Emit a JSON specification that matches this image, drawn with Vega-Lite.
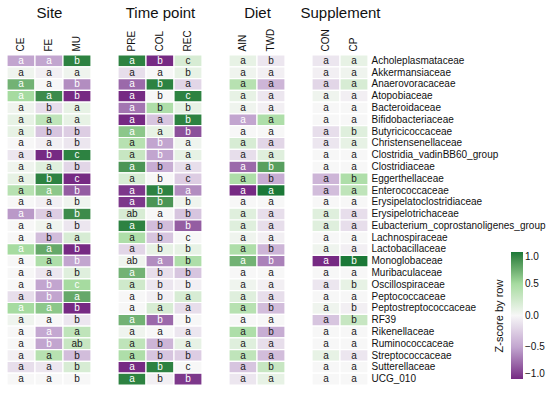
{
  "$schema": "https://vega.github.io/schema/vega-lite/v6.json",
  "padding": {"left": 6, "top": 5, "right": 4, "bottom": 8},
  "config": {
    "font": "Liberation Sans",
    "view": {"stroke": null},
    "axis": {"labelColor": "#111", "titleColor": "#111"},
    "legend": {"labelColor": "#111", "titleColor": "#111"}
  },
  "datasets": {
    "cells": [
      {"family":"Acholeplasmataceae","panel":"Site","group":"CE","z":-0.5,"label":"a"},
      {"family":"Acholeplasmataceae","panel":"Site","group":"FE","z":-0.5,"label":"a"},
      {"family":"Acholeplasmataceae","panel":"Site","group":"MU","z":0.95,"label":"b"},
      {"family":"Akkermansiaceae","panel":"Site","group":"CE","z":0.05,"label":"a"},
      {"family":"Akkermansiaceae","panel":"Site","group":"FE","z":-0.05,"label":"a"},
      {"family":"Akkermansiaceae","panel":"Site","group":"MU","z":0.05,"label":"a"},
      {"family":"Anaerovoracaceae","panel":"Site","group":"CE","z":0.7,"label":"a"},
      {"family":"Anaerovoracaceae","panel":"Site","group":"FE","z":0.0,"label":"a"},
      {"family":"Anaerovoracaceae","panel":"Site","group":"MU","z":-0.6,"label":"b"},
      {"family":"Atopobiaceae","panel":"Site","group":"CE","z":0.5,"label":"a"},
      {"family":"Atopobiaceae","panel":"Site","group":"FE","z":0.9,"label":"a"},
      {"family":"Atopobiaceae","panel":"Site","group":"MU","z":-1.0,"label":"b"},
      {"family":"Bacteroidaceae","panel":"Site","group":"CE","z":0.05,"label":"a"},
      {"family":"Bacteroidaceae","panel":"Site","group":"FE","z":-0.15,"label":"b"},
      {"family":"Bacteroidaceae","panel":"Site","group":"MU","z":0.1,"label":"a"},
      {"family":"Bifidobacteriaceae","panel":"Site","group":"CE","z":0.1,"label":"a"},
      {"family":"Bifidobacteriaceae","panel":"Site","group":"FE","z":0.35,"label":"a"},
      {"family":"Bifidobacteriaceae","panel":"Site","group":"MU","z":0.1,"label":"a"},
      {"family":"Butyricicoccaceae","panel":"Site","group":"CE","z":0.1,"label":"a"},
      {"family":"Butyricicoccaceae","panel":"Site","group":"FE","z":-0.3,"label":"b"},
      {"family":"Butyricicoccaceae","panel":"Site","group":"MU","z":-0.25,"label":"b"},
      {"family":"Christensenellaceae","panel":"Site","group":"CE","z":0.0,"label":"a"},
      {"family":"Christensenellaceae","panel":"Site","group":"FE","z":-0.05,"label":"a"},
      {"family":"Christensenellaceae","panel":"Site","group":"MU","z":-0.1,"label":"b"},
      {"family":"Clostridia_vadinBB60_group","panel":"Site","group":"CE","z":-0.1,"label":"a"},
      {"family":"Clostridia_vadinBB60_group","panel":"Site","group":"FE","z":-1.0,"label":"b"},
      {"family":"Clostridia_vadinBB60_group","panel":"Site","group":"MU","z":0.95,"label":"c"},
      {"family":"Clostridiaceae","panel":"Site","group":"CE","z":0.05,"label":"a"},
      {"family":"Clostridiaceae","panel":"Site","group":"FE","z":0.15,"label":"a"},
      {"family":"Clostridiaceae","panel":"Site","group":"MU","z":-0.2,"label":"b"},
      {"family":"Eggerthellaceae","panel":"Site","group":"CE","z":0.1,"label":"a"},
      {"family":"Eggerthellaceae","panel":"Site","group":"FE","z":0.95,"label":"b"},
      {"family":"Eggerthellaceae","panel":"Site","group":"MU","z":-1.0,"label":"c"},
      {"family":"Enterococcaceae","panel":"Site","group":"CE","z":0.4,"label":"a"},
      {"family":"Enterococcaceae","panel":"Site","group":"FE","z":0.6,"label":"a"},
      {"family":"Enterococcaceae","panel":"Site","group":"MU","z":-0.8,"label":"b"},
      {"family":"Erysipelatoclostridiaceae","panel":"Site","group":"CE","z":0.0,"label":"a"},
      {"family":"Erysipelatoclostridiaceae","panel":"Site","group":"FE","z":-0.05,"label":"a"},
      {"family":"Erysipelatoclostridiaceae","panel":"Site","group":"MU","z":0.05,"label":"b"},
      {"family":"Erysipelotrichaceae","panel":"Site","group":"CE","z":-0.55,"label":"a"},
      {"family":"Erysipelotrichaceae","panel":"Site","group":"FE","z":-0.25,"label":"a"},
      {"family":"Erysipelotrichaceae","panel":"Site","group":"MU","z":0.9,"label":"b"},
      {"family":"Eubacterium_coprostanoligenes_group","panel":"Site","group":"CE","z":0.0,"label":"a"},
      {"family":"Eubacterium_coprostanoligenes_group","panel":"Site","group":"FE","z":0.05,"label":"a"},
      {"family":"Eubacterium_coprostanoligenes_group","panel":"Site","group":"MU","z":-0.1,"label":"b"},
      {"family":"Lachnospiraceae","panel":"Site","group":"CE","z":0.0,"label":"a"},
      {"family":"Lachnospiraceae","panel":"Site","group":"FE","z":-0.35,"label":"b"},
      {"family":"Lachnospiraceae","panel":"Site","group":"MU","z":0.2,"label":"a"},
      {"family":"Lactobacillaceae","panel":"Site","group":"CE","z":0.5,"label":"a"},
      {"family":"Lactobacillaceae","panel":"Site","group":"FE","z":0.75,"label":"a"},
      {"family":"Lactobacillaceae","panel":"Site","group":"MU","z":-1.0,"label":"b"},
      {"family":"Monoglobaceae","panel":"Site","group":"CE","z":0.0,"label":"a"},
      {"family":"Monoglobaceae","panel":"Site","group":"FE","z":0.45,"label":"a"},
      {"family":"Monoglobaceae","panel":"Site","group":"MU","z":-0.5,"label":"b"},
      {"family":"Muribaculaceae","panel":"Site","group":"CE","z":0.0,"label":"a"},
      {"family":"Muribaculaceae","panel":"Site","group":"FE","z":-0.1,"label":"a"},
      {"family":"Muribaculaceae","panel":"Site","group":"MU","z":0.15,"label":"b"},
      {"family":"Oscillospiraceae","panel":"Site","group":"CE","z":0.0,"label":"a"},
      {"family":"Oscillospiraceae","panel":"Site","group":"FE","z":-0.5,"label":"b"},
      {"family":"Oscillospiraceae","panel":"Site","group":"MU","z":0.5,"label":"c"},
      {"family":"Peptococcaceae","panel":"Site","group":"CE","z":-0.15,"label":"a"},
      {"family":"Peptococcaceae","panel":"Site","group":"FE","z":-0.5,"label":"b"},
      {"family":"Peptococcaceae","panel":"Site","group":"MU","z":0.75,"label":"a"},
      {"family":"Peptostreptococcaceae","panel":"Site","group":"CE","z":0.5,"label":"a"},
      {"family":"Peptostreptococcaceae","panel":"Site","group":"FE","z":0.6,"label":"a"},
      {"family":"Peptostreptococcaceae","panel":"Site","group":"MU","z":-1.0,"label":"b"},
      {"family":"RF39","panel":"Site","group":"CE","z":0.05,"label":"a"},
      {"family":"RF39","panel":"Site","group":"FE","z":0.0,"label":"a"},
      {"family":"RF39","panel":"Site","group":"MU","z":-0.1,"label":"b"},
      {"family":"Rikenellaceae","panel":"Site","group":"CE","z":0.0,"label":"a"},
      {"family":"Rikenellaceae","panel":"Site","group":"FE","z":-0.48,"label":"a"},
      {"family":"Rikenellaceae","panel":"Site","group":"MU","z":0.35,"label":"a"},
      {"family":"Ruminococcaceae","panel":"Site","group":"CE","z":0.0,"label":"a"},
      {"family":"Ruminococcaceae","panel":"Site","group":"FE","z":-0.5,"label":"b"},
      {"family":"Ruminococcaceae","panel":"Site","group":"MU","z":0.3,"label":"ab"},
      {"family":"Streptococcaceae","panel":"Site","group":"CE","z":-0.05,"label":"a"},
      {"family":"Streptococcaceae","panel":"Site","group":"FE","z":0.4,"label":"a"},
      {"family":"Streptococcaceae","panel":"Site","group":"MU","z":-0.35,"label":"b"},
      {"family":"Sutterellaceae","panel":"Site","group":"CE","z":-0.15,"label":"a"},
      {"family":"Sutterellaceae","panel":"Site","group":"FE","z":-0.1,"label":"a"},
      {"family":"Sutterellaceae","panel":"Site","group":"MU","z":0.2,"label":"b"},
      {"family":"UCG_010","panel":"Site","group":"CE","z":0.0,"label":"a"},
      {"family":"UCG_010","panel":"Site","group":"FE","z":0.0,"label":"a"},
      {"family":"UCG_010","panel":"Site","group":"MU","z":0.0,"label":"b"},

      {"family":"Acholeplasmataceae","panel":"Time","group":"PRE","z":0.95,"label":"a"},
      {"family":"Acholeplasmataceae","panel":"Time","group":"COL","z":-1.0,"label":"b"},
      {"family":"Acholeplasmataceae","panel":"Time","group":"REC","z":0.2,"label":"c"},
      {"family":"Akkermansiaceae","panel":"Time","group":"PRE","z":-0.15,"label":"a"},
      {"family":"Akkermansiaceae","panel":"Time","group":"COL","z":0.0,"label":"a"},
      {"family":"Akkermansiaceae","panel":"Time","group":"REC","z":0.1,"label":"b"},
      {"family":"Anaerovoracaceae","panel":"Time","group":"PRE","z":-0.75,"label":"a"},
      {"family":"Anaerovoracaceae","panel":"Time","group":"COL","z":0.95,"label":"b"},
      {"family":"Anaerovoracaceae","panel":"Time","group":"REC","z":-0.2,"label":"a"},
      {"family":"Atopobiaceae","panel":"Time","group":"PRE","z":-1.0,"label":"a"},
      {"family":"Atopobiaceae","panel":"Time","group":"COL","z":0.0,"label":"b"},
      {"family":"Atopobiaceae","panel":"Time","group":"REC","z":0.95,"label":"c"},
      {"family":"Bacteroidaceae","panel":"Time","group":"PRE","z":-0.7,"label":"a"},
      {"family":"Bacteroidaceae","panel":"Time","group":"COL","z":0.45,"label":"b"},
      {"family":"Bacteroidaceae","panel":"Time","group":"REC","z":0.1,"label":"b"},
      {"family":"Bifidobacteriaceae","panel":"Time","group":"PRE","z":-1.0,"label":"a"},
      {"family":"Bifidobacteriaceae","panel":"Time","group":"COL","z":-0.3,"label":"a"},
      {"family":"Bifidobacteriaceae","panel":"Time","group":"REC","z":0.95,"label":"b"},
      {"family":"Butyricicoccaceae","panel":"Time","group":"PRE","z":0.6,"label":"a"},
      {"family":"Butyricicoccaceae","panel":"Time","group":"COL","z":0.1,"label":"a"},
      {"family":"Butyricicoccaceae","panel":"Time","group":"REC","z":-0.85,"label":"b"},
      {"family":"Christensenellaceae","panel":"Time","group":"PRE","z":0.4,"label":"a"},
      {"family":"Christensenellaceae","panel":"Time","group":"COL","z":-0.5,"label":"b"},
      {"family":"Christensenellaceae","panel":"Time","group":"REC","z":0.05,"label":"a"},
      {"family":"Clostridia_vadinBB60_group","panel":"Time","group":"PRE","z":0.3,"label":"a"},
      {"family":"Clostridia_vadinBB60_group","panel":"Time","group":"COL","z":-0.5,"label":"b"},
      {"family":"Clostridia_vadinBB60_group","panel":"Time","group":"REC","z":0.1,"label":"a"},
      {"family":"Clostridiaceae","panel":"Time","group":"PRE","z":0.85,"label":"a"},
      {"family":"Clostridiaceae","panel":"Time","group":"COL","z":-0.45,"label":"b"},
      {"family":"Clostridiaceae","panel":"Time","group":"REC","z":-0.15,"label":"a"},
      {"family":"Eggerthellaceae","panel":"Time","group":"PRE","z":0.2,"label":"a"},
      {"family":"Eggerthellaceae","panel":"Time","group":"COL","z":0.0,"label":"b"},
      {"family":"Eggerthellaceae","panel":"Time","group":"REC","z":-0.25,"label":"c"},
      {"family":"Enterococcaceae","panel":"Time","group":"PRE","z":-0.95,"label":"a"},
      {"family":"Enterococcaceae","panel":"Time","group":"COL","z":0.95,"label":"b"},
      {"family":"Enterococcaceae","panel":"Time","group":"REC","z":-0.6,"label":"a"},
      {"family":"Erysipelatoclostridiaceae","panel":"Time","group":"PRE","z":-0.95,"label":"a"},
      {"family":"Erysipelatoclostridiaceae","panel":"Time","group":"COL","z":0.85,"label":"b"},
      {"family":"Erysipelatoclostridiaceae","panel":"Time","group":"REC","z":0.05,"label":"b"},
      {"family":"Erysipelotrichaceae","panel":"Time","group":"PRE","z":0.2,"label":"ab"},
      {"family":"Erysipelotrichaceae","panel":"Time","group":"COL","z":0.0,"label":"a"},
      {"family":"Erysipelotrichaceae","panel":"Time","group":"REC","z":-0.3,"label":"b"},
      {"family":"Eubacterium_coprostanoligenes_group","panel":"Time","group":"PRE","z":0.95,"label":"a"},
      {"family":"Eubacterium_coprostanoligenes_group","panel":"Time","group":"COL","z":-0.35,"label":"b"},
      {"family":"Eubacterium_coprostanoligenes_group","panel":"Time","group":"REC","z":-0.8,"label":"b"},
      {"family":"Lachnospiraceae","panel":"Time","group":"PRE","z":0.45,"label":"a"},
      {"family":"Lachnospiraceae","panel":"Time","group":"COL","z":-0.3,"label":"b"},
      {"family":"Lachnospiraceae","panel":"Time","group":"REC","z":0.0,"label":"c"},
      {"family":"Lactobacillaceae","panel":"Time","group":"PRE","z":-0.2,"label":"a"},
      {"family":"Lactobacillaceae","panel":"Time","group":"COL","z":0.1,"label":"b"},
      {"family":"Lactobacillaceae","panel":"Time","group":"REC","z":0.1,"label":"b"},
      {"family":"Monoglobaceae","panel":"Time","group":"PRE","z":0.05,"label":"ab"},
      {"family":"Monoglobaceae","panel":"Time","group":"COL","z":-0.6,"label":"a"},
      {"family":"Monoglobaceae","panel":"Time","group":"REC","z":0.45,"label":"b"},
      {"family":"Muribaculaceae","panel":"Time","group":"PRE","z":0.7,"label":"a"},
      {"family":"Muribaculaceae","panel":"Time","group":"COL","z":-0.15,"label":"b"},
      {"family":"Muribaculaceae","panel":"Time","group":"REC","z":-0.3,"label":"b"},
      {"family":"Oscillospiraceae","panel":"Time","group":"PRE","z":0.25,"label":"a"},
      {"family":"Oscillospiraceae","panel":"Time","group":"COL","z":-0.1,"label":"b"},
      {"family":"Oscillospiraceae","panel":"Time","group":"REC","z":-0.05,"label":"b"},
      {"family":"Peptococcaceae","panel":"Time","group":"PRE","z":0.0,"label":"a"},
      {"family":"Peptococcaceae","panel":"Time","group":"COL","z":-0.05,"label":"b"},
      {"family":"Peptococcaceae","panel":"Time","group":"REC","z":0.2,"label":"a"},
      {"family":"Peptostreptococcaceae","panel":"Time","group":"PRE","z":0.0,"label":"a"},
      {"family":"Peptostreptococcaceae","panel":"Time","group":"COL","z":0.2,"label":"a"},
      {"family":"Peptostreptococcaceae","panel":"Time","group":"REC","z":-0.15,"label":"a"},
      {"family":"RF39","panel":"Time","group":"PRE","z":0.7,"label":"a"},
      {"family":"RF39","panel":"Time","group":"COL","z":-0.75,"label":"b"},
      {"family":"RF39","panel":"Time","group":"REC","z":0.0,"label":"b"},
      {"family":"Rikenellaceae","panel":"Time","group":"PRE","z":0.05,"label":"a"},
      {"family":"Rikenellaceae","panel":"Time","group":"COL","z":0.0,"label":"a"},
      {"family":"Rikenellaceae","panel":"Time","group":"REC","z":-0.1,"label":"a"},
      {"family":"Ruminococcaceae","panel":"Time","group":"PRE","z":0.35,"label":"a"},
      {"family":"Ruminococcaceae","panel":"Time","group":"COL","z":-0.4,"label":"b"},
      {"family":"Ruminococcaceae","panel":"Time","group":"REC","z":0.1,"label":"a"},
      {"family":"Streptococcaceae","panel":"Time","group":"PRE","z":0.45,"label":"a"},
      {"family":"Streptococcaceae","panel":"Time","group":"COL","z":-0.3,"label":"b"},
      {"family":"Streptococcaceae","panel":"Time","group":"REC","z":-0.25,"label":"b"},
      {"family":"Sutterellaceae","panel":"Time","group":"PRE","z":-1.0,"label":"a"},
      {"family":"Sutterellaceae","panel":"Time","group":"COL","z":0.95,"label":"b"},
      {"family":"Sutterellaceae","panel":"Time","group":"REC","z":0.0,"label":"c"},
      {"family":"UCG_010","panel":"Time","group":"PRE","z":0.95,"label":"a"},
      {"family":"UCG_010","panel":"Time","group":"COL","z":-0.05,"label":"b"},
      {"family":"UCG_010","panel":"Time","group":"REC","z":-0.95,"label":"b"},

      {"family":"Acholeplasmataceae","panel":"Diet","group":"AIN","z":0.1,"label":"a"},
      {"family":"Acholeplasmataceae","panel":"Diet","group":"TWD","z":-0.1,"label":"b"},
      {"family":"Akkermansiaceae","panel":"Diet","group":"AIN","z":0.05,"label":"a"},
      {"family":"Akkermansiaceae","panel":"Diet","group":"TWD","z":-0.05,"label":"a"},
      {"family":"Anaerovoracaceae","panel":"Diet","group":"AIN","z":0.4,"label":"a"},
      {"family":"Anaerovoracaceae","panel":"Diet","group":"TWD","z":-0.4,"label":"a"},
      {"family":"Atopobiaceae","panel":"Diet","group":"AIN","z":0.1,"label":"a"},
      {"family":"Atopobiaceae","panel":"Diet","group":"TWD","z":-0.1,"label":"a"},
      {"family":"Bacteroidaceae","panel":"Diet","group":"AIN","z":0.05,"label":"a"},
      {"family":"Bacteroidaceae","panel":"Diet","group":"TWD","z":-0.05,"label":"a"},
      {"family":"Bifidobacteriaceae","panel":"Diet","group":"AIN","z":-0.5,"label":"a"},
      {"family":"Bifidobacteriaceae","panel":"Diet","group":"TWD","z":0.45,"label":"a"},
      {"family":"Butyricicoccaceae","panel":"Diet","group":"AIN","z":0.0,"label":"a"},
      {"family":"Butyricicoccaceae","panel":"Diet","group":"TWD","z":0.0,"label":"a"},
      {"family":"Christensenellaceae","panel":"Diet","group":"AIN","z":0.2,"label":"a"},
      {"family":"Christensenellaceae","panel":"Diet","group":"TWD","z":-0.2,"label":"a"},
      {"family":"Clostridia_vadinBB60_group","panel":"Diet","group":"AIN","z":-0.15,"label":"a"},
      {"family":"Clostridia_vadinBB60_group","panel":"Diet","group":"TWD","z":0.15,"label":"a"},
      {"family":"Clostridiaceae","panel":"Diet","group":"AIN","z":-0.75,"label":"a"},
      {"family":"Clostridiaceae","panel":"Diet","group":"TWD","z":0.8,"label":"b"},
      {"family":"Eggerthellaceae","panel":"Diet","group":"AIN","z":0.45,"label":"a"},
      {"family":"Eggerthellaceae","panel":"Diet","group":"TWD","z":-0.45,"label":"b"},
      {"family":"Enterococcaceae","panel":"Diet","group":"AIN","z":-1.0,"label":"a"},
      {"family":"Enterococcaceae","panel":"Diet","group":"TWD","z":1.0,"label":"a"},
      {"family":"Erysipelatoclostridiaceae","panel":"Diet","group":"AIN","z":0.0,"label":"a"},
      {"family":"Erysipelatoclostridiaceae","panel":"Diet","group":"TWD","z":0.0,"label":"a"},
      {"family":"Erysipelotrichaceae","panel":"Diet","group":"AIN","z":0.15,"label":"a"},
      {"family":"Erysipelotrichaceae","panel":"Diet","group":"TWD","z":-0.15,"label":"a"},
      {"family":"Eubacterium_coprostanoligenes_group","panel":"Diet","group":"AIN","z":0.15,"label":"a"},
      {"family":"Eubacterium_coprostanoligenes_group","panel":"Diet","group":"TWD","z":-0.15,"label":"a"},
      {"family":"Lachnospiraceae","panel":"Diet","group":"AIN","z":0.05,"label":"a"},
      {"family":"Lachnospiraceae","panel":"Diet","group":"TWD","z":-0.05,"label":"a"},
      {"family":"Lactobacillaceae","panel":"Diet","group":"AIN","z":0.45,"label":"a"},
      {"family":"Lactobacillaceae","panel":"Diet","group":"TWD","z":-0.4,"label":"b"},
      {"family":"Monoglobaceae","panel":"Diet","group":"AIN","z":0.7,"label":"a"},
      {"family":"Monoglobaceae","panel":"Diet","group":"TWD","z":-0.65,"label":"b"},
      {"family":"Muribaculaceae","panel":"Diet","group":"AIN","z":0.0,"label":"a"},
      {"family":"Muribaculaceae","panel":"Diet","group":"TWD","z":0.0,"label":"a"},
      {"family":"Oscillospiraceae","panel":"Diet","group":"AIN","z":0.05,"label":"a"},
      {"family":"Oscillospiraceae","panel":"Diet","group":"TWD","z":-0.05,"label":"a"},
      {"family":"Peptococcaceae","panel":"Diet","group":"AIN","z":0.15,"label":"a"},
      {"family":"Peptococcaceae","panel":"Diet","group":"TWD","z":-0.15,"label":"a"},
      {"family":"Peptostreptococcaceae","panel":"Diet","group":"AIN","z":0.4,"label":"a"},
      {"family":"Peptostreptococcaceae","panel":"Diet","group":"TWD","z":-0.35,"label":"b"},
      {"family":"RF39","panel":"Diet","group":"AIN","z":0.0,"label":"a"},
      {"family":"RF39","panel":"Diet","group":"TWD","z":0.0,"label":"a"},
      {"family":"Rikenellaceae","panel":"Diet","group":"AIN","z":0.45,"label":"a"},
      {"family":"Rikenellaceae","panel":"Diet","group":"TWD","z":-0.45,"label":"b"},
      {"family":"Ruminococcaceae","panel":"Diet","group":"AIN","z":0.15,"label":"a"},
      {"family":"Ruminococcaceae","panel":"Diet","group":"TWD","z":-0.15,"label":"a"},
      {"family":"Streptococcaceae","panel":"Diet","group":"AIN","z":0.35,"label":"a"},
      {"family":"Streptococcaceae","panel":"Diet","group":"TWD","z":-0.35,"label":"a"},
      {"family":"Sutterellaceae","panel":"Diet","group":"AIN","z":-0.3,"label":"a"},
      {"family":"Sutterellaceae","panel":"Diet","group":"TWD","z":0.3,"label":"b"},
      {"family":"UCG_010","panel":"Diet","group":"AIN","z":-0.1,"label":"a"},
      {"family":"UCG_010","panel":"Diet","group":"TWD","z":0.1,"label":"a"},

      {"family":"Acholeplasmataceae","panel":"Supplement","group":"CON","z":-0.1,"label":"a"},
      {"family":"Acholeplasmataceae","panel":"Supplement","group":"CP","z":0.1,"label":"a"},
      {"family":"Akkermansiaceae","panel":"Supplement","group":"CON","z":-0.05,"label":"a"},
      {"family":"Akkermansiaceae","panel":"Supplement","group":"CP","z":0.05,"label":"a"},
      {"family":"Anaerovoracaceae","panel":"Supplement","group":"CON","z":-0.2,"label":"a"},
      {"family":"Anaerovoracaceae","panel":"Supplement","group":"CP","z":0.2,"label":"a"},
      {"family":"Atopobiaceae","panel":"Supplement","group":"CON","z":0.05,"label":"a"},
      {"family":"Atopobiaceae","panel":"Supplement","group":"CP","z":-0.05,"label":"a"},
      {"family":"Bacteroidaceae","panel":"Supplement","group":"CON","z":0.0,"label":"a"},
      {"family":"Bacteroidaceae","panel":"Supplement","group":"CP","z":0.0,"label":"a"},
      {"family":"Bifidobacteriaceae","panel":"Supplement","group":"CON","z":0.0,"label":"a"},
      {"family":"Bifidobacteriaceae","panel":"Supplement","group":"CP","z":0.0,"label":"a"},
      {"family":"Butyricicoccaceae","panel":"Supplement","group":"CON","z":-0.15,"label":"a"},
      {"family":"Butyricicoccaceae","panel":"Supplement","group":"CP","z":0.15,"label":"b"},
      {"family":"Christensenellaceae","panel":"Supplement","group":"CON","z":-0.1,"label":"a"},
      {"family":"Christensenellaceae","panel":"Supplement","group":"CP","z":0.1,"label":"a"},
      {"family":"Clostridia_vadinBB60_group","panel":"Supplement","group":"CON","z":0.0,"label":"a"},
      {"family":"Clostridia_vadinBB60_group","panel":"Supplement","group":"CP","z":0.0,"label":"a"},
      {"family":"Clostridiaceae","panel":"Supplement","group":"CON","z":0.0,"label":"a"},
      {"family":"Clostridiaceae","panel":"Supplement","group":"CP","z":0.0,"label":"a"},
      {"family":"Eggerthellaceae","panel":"Supplement","group":"CON","z":-0.4,"label":"a"},
      {"family":"Eggerthellaceae","panel":"Supplement","group":"CP","z":0.45,"label":"b"},
      {"family":"Enterococcaceae","panel":"Supplement","group":"CON","z":-0.35,"label":"a"},
      {"family":"Enterococcaceae","panel":"Supplement","group":"CP","z":0.35,"label":"a"},
      {"family":"Erysipelatoclostridiaceae","panel":"Supplement","group":"CON","z":0.0,"label":"a"},
      {"family":"Erysipelatoclostridiaceae","panel":"Supplement","group":"CP","z":0.0,"label":"a"},
      {"family":"Erysipelotrichaceae","panel":"Supplement","group":"CON","z":0.15,"label":"a"},
      {"family":"Erysipelotrichaceae","panel":"Supplement","group":"CP","z":-0.15,"label":"a"},
      {"family":"Eubacterium_coprostanoligenes_group","panel":"Supplement","group":"CON","z":0.15,"label":"a"},
      {"family":"Eubacterium_coprostanoligenes_group","panel":"Supplement","group":"CP","z":-0.15,"label":"a"},
      {"family":"Lachnospiraceae","panel":"Supplement","group":"CON","z":0.0,"label":"a"},
      {"family":"Lachnospiraceae","panel":"Supplement","group":"CP","z":0.0,"label":"a"},
      {"family":"Lactobacillaceae","panel":"Supplement","group":"CON","z":0.05,"label":"a"},
      {"family":"Lactobacillaceae","panel":"Supplement","group":"CP","z":-0.05,"label":"a"},
      {"family":"Monoglobaceae","panel":"Supplement","group":"CON","z":-1.0,"label":"a"},
      {"family":"Monoglobaceae","panel":"Supplement","group":"CP","z":1.0,"label":"b"},
      {"family":"Muribaculaceae","panel":"Supplement","group":"CON","z":0.0,"label":"a"},
      {"family":"Muribaculaceae","panel":"Supplement","group":"CP","z":0.0,"label":"a"},
      {"family":"Oscillospiraceae","panel":"Supplement","group":"CON","z":-0.1,"label":"a"},
      {"family":"Oscillospiraceae","panel":"Supplement","group":"CP","z":0.1,"label":"b"},
      {"family":"Peptococcaceae","panel":"Supplement","group":"CON","z":0.0,"label":"a"},
      {"family":"Peptococcaceae","panel":"Supplement","group":"CP","z":0.0,"label":"a"},
      {"family":"Peptostreptococcaceae","panel":"Supplement","group":"CON","z":0.05,"label":"a"},
      {"family":"Peptostreptococcaceae","panel":"Supplement","group":"CP","z":-0.05,"label":"b"},
      {"family":"RF39","panel":"Supplement","group":"CON","z":-0.3,"label":"a"},
      {"family":"RF39","panel":"Supplement","group":"CP","z":0.3,"label":"b"},
      {"family":"Rikenellaceae","panel":"Supplement","group":"CON","z":0.0,"label":"a"},
      {"family":"Rikenellaceae","panel":"Supplement","group":"CP","z":0.0,"label":"a"},
      {"family":"Ruminococcaceae","panel":"Supplement","group":"CON","z":0.0,"label":"a"},
      {"family":"Ruminococcaceae","panel":"Supplement","group":"CP","z":0.0,"label":"a"},
      {"family":"Streptococcaceae","panel":"Supplement","group":"CON","z":0.1,"label":"a"},
      {"family":"Streptococcaceae","panel":"Supplement","group":"CP","z":-0.1,"label":"a"},
      {"family":"Sutterellaceae","panel":"Supplement","group":"CON","z":0.0,"label":"a"},
      {"family":"Sutterellaceae","panel":"Supplement","group":"CP","z":0.0,"label":"a"},
      {"family":"UCG_010","panel":"Supplement","group":"CON","z":0.0,"label":"a"},
      {"family":"UCG_010","panel":"Supplement","group":"CP","z":0.0,"label":"a"}
    ]
  },
  "data": {"name": "cells"},
  "bounds": "flush",
  "spacing": 27,
  "resolve": {"scale": {"color": "shared"}},
  "hconcat": [
    {
      "width": 84, "height": 330,
      "transform": [{"filter": "datum.panel === 'Site'"}],
      "encoding": {
        "x": {"field": "group", "type": "nominal", "sort": ["CE","FE","MU"], "scale": {"paddingInner": 0, "paddingOuter": 0},
              "axis": {"orient": "top", "title": "Site", "titleY": -38, "titleFontSize": 15, "titleFontWeight": "normal", "titleBaseline": "alphabetic", "labelAngle": -90, "labelFontSize": 10, "labelPadding": 4, "ticks": false, "domain": false, "grid": false}},
        "y": {"field": "family", "type": "nominal", "scale": {"paddingInner": 0, "paddingOuter": 0}, "axis": null}
      },
      "layer": [
        {"mark": {"type": "rect", "stroke": "white", "strokeWidth": 1.2},
         "encoding": {"color": {"field": "z", "type": "quantitative",
            "scale": {"domain": [-1, -0.5, 0, 0.5, 1], "range": ["#762a83", "#c2a5cf", "#f7f7f7", "#a6dba0", "#1b7837"], "clamp": true},
            "legend": {"title": "Z-score by row", "orient": "none", "legendX": 487, "legendY": 197, "direction": "vertical", "gradientLength": 127, "gradientThickness": 12, "titleOrient": "left", "titleAngle": 270, "titleAnchor": "middle", "titleFontSize": 11, "titleFontWeight": "normal", "values": [-1, -0.5, 0, 0.5, 1], "format": ".1f", "labelFontSize": 10}}}},
        {"mark": {"type": "text", "fontSize": 10},
         "encoding": {"text": {"field": "label"}, "color": {"condition": {"test": "abs(datum.z) > 0.47", "value": "white"}, "value": "#1a1a1a"}}}
      ]
    },
    {
      "width": 84, "height": 330,
      "transform": [{"filter": "datum.panel === 'Time'"}],
      "encoding": {
        "x": {"field": "group", "type": "nominal", "sort": ["PRE","COL","REC"], "scale": {"paddingInner": 0, "paddingOuter": 0},
              "axis": {"orient": "top", "title": "Time point", "titleY": -38, "titleFontSize": 15, "titleFontWeight": "normal", "titleBaseline": "alphabetic", "labelAngle": -90, "labelFontSize": 10, "labelPadding": 4, "ticks": false, "domain": false, "grid": false}},
        "y": {"field": "family", "type": "nominal", "scale": {"paddingInner": 0, "paddingOuter": 0}, "axis": null}
      },
      "layer": [
        {"mark": {"type": "rect", "stroke": "white", "strokeWidth": 1.2},
         "encoding": {"color": {"field": "z", "type": "quantitative"}}},
        {"mark": {"type": "text", "fontSize": 10},
         "encoding": {"text": {"field": "label"}, "color": {"condition": {"test": "abs(datum.z) > 0.47", "value": "white"}, "value": "#1a1a1a"}}}
      ]
    },
    {
      "width": 56, "height": 330,
      "transform": [{"filter": "datum.panel === 'Diet'"}],
      "encoding": {
        "x": {"field": "group", "type": "nominal", "sort": ["AIN","TWD"], "scale": {"paddingInner": 0, "paddingOuter": 0},
              "axis": {"orient": "top", "title": "Diet", "titleY": -38, "titleFontSize": 15, "titleFontWeight": "normal", "titleBaseline": "alphabetic", "labelAngle": -90, "labelFontSize": 10, "labelPadding": 4, "ticks": false, "domain": false, "grid": false}},
        "y": {"field": "family", "type": "nominal", "scale": {"paddingInner": 0, "paddingOuter": 0}, "axis": null}
      },
      "layer": [
        {"mark": {"type": "rect", "stroke": "white", "strokeWidth": 1.2},
         "encoding": {"color": {"field": "z", "type": "quantitative"}}},
        {"mark": {"type": "text", "fontSize": 10},
         "encoding": {"text": {"field": "label"}, "color": {"condition": {"test": "abs(datum.z) > 0.47", "value": "white"}, "value": "#1a1a1a"}}}
      ]
    },
    {
      "width": 56, "height": 330,
      "transform": [{"filter": "datum.panel === 'Supplement'"}],
      "encoding": {
        "x": {"field": "group", "type": "nominal", "sort": ["CON","CP"], "scale": {"paddingInner": 0, "paddingOuter": 0},
              "axis": {"orient": "top", "title": "Supplement", "titleY": -38, "titleFontSize": 15, "titleFontWeight": "normal", "titleBaseline": "alphabetic", "labelAngle": -90, "labelFontSize": 10, "labelPadding": 4, "ticks": false, "domain": false, "grid": false}},
        "y": {"field": "family", "type": "nominal", "scale": {"paddingInner": 0, "paddingOuter": 0},
              "axis": {"orient": "right", "title": null, "labelFontSize": 10, "labelPadding": 3, "ticks": false, "domain": false, "grid": false}}
      },
      "layer": [
        {"mark": {"type": "rect", "stroke": "white", "strokeWidth": 1.2},
         "encoding": {"color": {"field": "z", "type": "quantitative"}}},
        {"mark": {"type": "text", "fontSize": 10},
         "encoding": {"text": {"field": "label"}, "color": {"condition": {"test": "abs(datum.z) > 0.47", "value": "white"}, "value": "#1a1a1a"}}}
      ]
    }
  ]
}
